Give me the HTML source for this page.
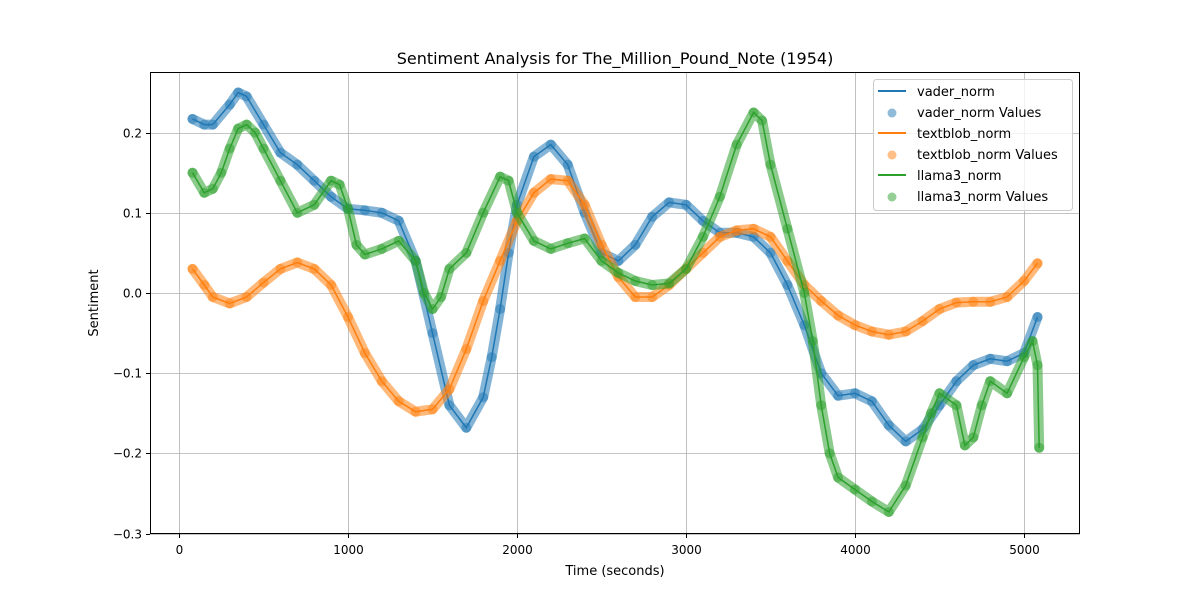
<!DOCTYPE html>
<html><head><meta charset="utf-8"><style>
body{margin:0;background:#fff;font-family:"Liberation Sans","DejaVu Sans",sans-serif}
svg text{font-family:"DejaVu Sans","Liberation Sans",sans-serif}
</style></head><body>
<svg id="chart" width="1200" height="600" xmlns="http://www.w3.org/2000/svg">
<rect width="1200" height="600" fill="#fff"/>
<g id="grid"></g>
<g id="series"></g>
<rect x="150.5" y="72.5" width="929" height="461" fill="none" stroke="#000" stroke-width="1"/>
<g id="axes"></g>
<text x="615" y="64" text-anchor="middle" font-size="16">Sentiment Analysis for The_Million_Pound_Note (1954)</text>
<text x="615" y="575" text-anchor="middle" font-size="13">Time (seconds)</text>
<text x="98" y="303" text-anchor="middle" font-size="13" transform="rotate(-90 98 303)">Sentiment</text>
<g>
<rect x="873.5" y="79.5" width="199" height="131" rx="3" fill="#fff" fill-opacity="0.8" stroke="#ccc"/>
<line x1="878" y1="91" x2="906" y2="91" stroke="#1f77b4" stroke-width="2"/>
<text x="917" y="96" font-size="13">vader_norm</text>
<circle cx="892" cy="113" r="4.5" fill="#1f77b4" fill-opacity="0.5"/>
<text x="917" y="117" font-size="13">vader_norm Values</text>
<line x1="878" y1="133" x2="906" y2="133" stroke="#ff7f0e" stroke-width="2"/>
<text x="917" y="138" font-size="13">textblob_norm</text>
<circle cx="892" cy="155" r="4.5" fill="#ff7f0e" fill-opacity="0.5"/>
<text x="917" y="159" font-size="13">textblob_norm Values</text>
<line x1="878" y1="175" x2="906" y2="175" stroke="#2ca02c" stroke-width="2"/>
<text x="917" y="180" font-size="13">llama3_norm</text>
<circle cx="892" cy="197" r="4.5" fill="#2ca02c" fill-opacity="0.5"/>
<text x="917" y="201" font-size="13">llama3_norm Values</text>
</g>
</svg>
<script>
const xTicks=[0,1000,2000,3000,4000,5000];
const yTicks=[0.2,0.1,0.0,-0.1,-0.2,-0.3];
const yTickLabels=["0.2","0.1","0.0","−0.1","−0.2","−0.3"];
const vaderT=[80,150,200,300,350,400,500,600,700,800,900,1000,1100,1200,1300,1400,1500,1600,1700,1800,1850,1900,1950,2000,2100,2200,2300,2400,2500,2600,2700,2800,2900,3000,3100,3200,3300,3400,3500,3600,3700,3800,3900,4000,4100,4200,4300,4400,4500,4600,4700,4800,4900,5000,5080];
const vaderV=[0.217,0.21,0.21,0.235,0.25,0.245,0.21,0.175,0.16,0.14,0.12,0.105,0.103,0.1,0.09,0.04,-0.05,-0.14,-0.168,-0.13,-0.08,-0.02,0.05,0.11,0.17,0.185,0.16,0.1,0.05,0.04,0.06,0.095,0.113,0.11,0.09,0.075,0.075,0.07,0.05,0.01,-0.04,-0.1,-0.128,-0.125,-0.135,-0.165,-0.185,-0.17,-0.14,-0.11,-0.09,-0.082,-0.085,-0.075,-0.03];
const blobT=[80,150,200,300,400,500,600,700,800,900,1000,1100,1200,1300,1400,1500,1600,1700,1800,1900,2000,2100,2200,2300,2400,2500,2600,2700,2800,2900,3000,3100,3200,3300,3400,3500,3600,3700,3800,3900,4000,4100,4200,4300,4400,4500,4600,4700,4800,4900,5000,5080];
const blobV=[0.03,0.01,-0.005,-0.013,-0.005,0.013,0.03,0.038,0.03,0.01,-0.03,-0.075,-0.11,-0.135,-0.148,-0.145,-0.12,-0.07,-0.01,0.04,0.09,0.125,0.142,0.14,0.11,0.06,0.02,-0.005,-0.005,0.01,0.03,0.05,0.07,0.078,0.08,0.07,0.04,0.01,-0.01,-0.028,-0.04,-0.048,-0.052,-0.048,-0.035,-0.02,-0.012,-0.011,-0.011,-0.005,0.015,0.037];
const llamaT=[80,150,200,250,300,350,400,450,500,600,700,800,900,950,1000,1050,1100,1200,1300,1400,1450,1500,1550,1600,1700,1800,1900,1950,2000,2100,2200,2300,2400,2500,2600,2700,2800,2900,3000,3100,3200,3300,3400,3450,3500,3600,3700,3750,3800,3850,3900,4000,4100,4200,4300,4400,4450,4500,4600,4650,4700,4750,4800,4900,5000,5050,5080,5090];
const llamaV=[0.15,0.125,0.13,0.15,0.18,0.205,0.21,0.2,0.18,0.14,0.1,0.11,0.14,0.135,0.105,0.06,0.048,0.055,0.065,0.04,0.0,-0.02,-0.005,0.03,0.05,0.1,0.145,0.14,0.1,0.065,0.055,0.062,0.068,0.04,0.025,0.015,0.01,0.012,0.03,0.07,0.12,0.185,0.225,0.215,0.16,0.08,0.0,-0.06,-0.14,-0.2,-0.23,-0.245,-0.26,-0.273,-0.24,-0.18,-0.15,-0.125,-0.14,-0.19,-0.18,-0.14,-0.11,-0.125,-0.08,-0.06,-0.09,-0.193];
const NS="http://www.w3.org/2000/svg";
const X=t=>179+t*0.169;
const Y=v=>293-v*802;
function mk(tag,attrs,parent){const e=document.createElementNS(NS,tag);for(const k in attrs)e.setAttribute(k,attrs[k]);parent.appendChild(e);return e;}
const grid=document.getElementById('grid'),axes=document.getElementById('axes'),ser=document.getElementById('series');
xTicks.forEach(t=>{const x=Math.round(X(t))+0.5;
const g=mk('line',{x1:x,x2:x,y1:72,y2:534,stroke:'#b0b0b0','stroke-width':0.8},grid);


mk('line',{x1:x,x2:x,y1:534,y2:538,stroke:'#000'},axes);
const l=mk('text',{x:x,y:554,'text-anchor':'middle','font-size':12},axes);l.textContent=t;

});
yTicks.forEach((v,i)=>{const y=Math.round(Y(v))+0.5;
const g=mk('line',{x1:150,x2:1080,y1:y,y2:y,stroke:'#b0b0b0','stroke-width':0.8},grid);


mk('line',{x1:146,x2:150,y1:y,y2:y,stroke:'#000'},axes);
const l=mk('text',{x:142,y:y+4,'text-anchor':'end','font-size':12},axes);l.textContent=yTickLabels[i];

});
function series(T,V,color,name){
const pts=T.map((t,i)=>X(t).toFixed(1)+','+Y(V[i]).toFixed(1)).join(' ');
const band=mk('polyline',{points:pts,fill:'none',stroke:color,'stroke-opacity':0.55,'stroke-width':10,'stroke-linejoin':'round','stroke-linecap':'round'},ser);


T.forEach((t,i)=>{const c=mk('circle',{cx:X(t),cy:Y(V[i]),r:5,fill:color,'fill-opacity':0.5},ser);

});
const ln=mk('polyline',{points:pts,fill:'none',stroke:color,'stroke-width':1.5},ser);

}
series(vaderT,vaderV,'#1f77b4','vader');
series(blobT,blobV,'#ff7f0e','textblob');
series(llamaT,llamaV,'#2ca02c','llama3');
</script>
</body></html>
